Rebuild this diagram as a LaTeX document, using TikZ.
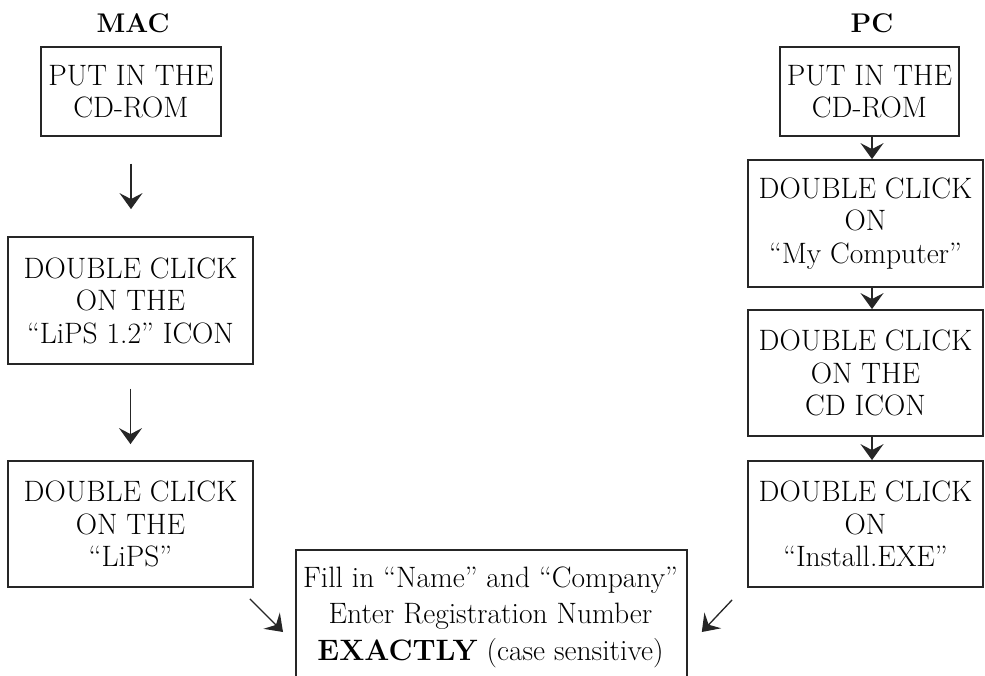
\documentclass[tikz,border=0pt]{standalone}
\usetikzlibrary{arrows.meta,calc}
\begin{document}
\begin{tikzpicture}[x=1pt,y=-1pt,
  box/.style={draw=black!85,line width=1.8pt,align=center,inner sep=0pt,
    font=\fontsize{29.5}{32.5}\selectfont},
  head/.style={font=\fontsize{27}{30}\selectfont\bfseries,anchor=base,inner sep=0pt},
  arr/.style={line width=1.3pt,draw=black!85,fill=black!85,-{Stealth[length=16pt,width=23pt,inset=6pt]}}]
\useasboundingbox (0,0) rectangle (985,675);
\clip (0,0) rectangle (985,675);
\fill[white] (0,0) rectangle (985,675);
% headings
\node[head] (mac) at (133,32) {MAC};
\node[head] (pc) at (872,32) {PC};
% MAC column
\node[box,minimum width=180pt,minimum height=89pt] (m1) at (131,91.5) {PUT IN THE\\CD-ROM};
\node[box,minimum width=245pt,minimum height=127pt] (m2) at (130.5,300.5) {DOUBLE CLICK\\ON THE\\“LiPS 1.2” ICON};
\node[box,minimum width=245pt,minimum height=126pt] (m3) at (130.5,524) {DOUBLE CLICK\\ON THE\\“LiPS”};
% PC column
\node[box,minimum width=179pt,minimum height=89pt] (p1) at (869.5,91.5) {PUT IN THE\\CD-ROM};
\node[box,minimum width=235pt,minimum height=127pt] (p2) at (865.5,223.5) {DOUBLE CLICK\\ON\\“My Computer”};
\node[box,minimum width=235pt,minimum height=126pt] (p3) at (865.5,373) {DOUBLE CLICK\\ON THE\\CD ICON};
\node[box,minimum width=235pt,minimum height=126pt] (p4) at (865.5,524) {DOUBLE CLICK\\ON\\“Install.EXE”};
% final box (runs off the bottom)
\node[box,minimum width=391pt,minimum height=160pt,anchor=north west] (f) at (295,549) {};
\node[anchor=base,inner sep=0pt,align=center,font=\fontsize{29.5}{36.5}\selectfont] (ft) at (490.5,660)
  {Fill in “Name” and “Company”\\Enter Registration Number\\\textbf{EXACTLY} (case sensitive)};
% MAC arrows
\draw[arr,shorten <=27pt,shorten >=27pt] (m1.south) -- (m1.south |- m2.north);
\draw[arr,shorten <=24pt,shorten >=16pt] (m2.south) -- (m2.south |- m3.north);
% PC arrows
\draw[arr] ([xshift=2.5pt]p1.south) -- ([xshift=2.5pt]p1.south |- p2.north);
\draw[arr] ([xshift=2.5pt]p1.south |- p2.south) -- ([xshift=2.5pt]p1.south |- p3.north);
\draw[arr] ([xshift=2.5pt]p1.south |- p3.south) -- ([xshift=2.5pt]p1.south |- p4.north);
% diagonal arrows
\draw[arr] ([shift={(-4,11)}]m3.south east) -- ([shift={(-12,83)}]f.north west);
\draw[arr] ([shift={(-15,12)}]p4.south west) -- ([shift={(14,83)}]f.north east);
\end{tikzpicture}
\end{document}
